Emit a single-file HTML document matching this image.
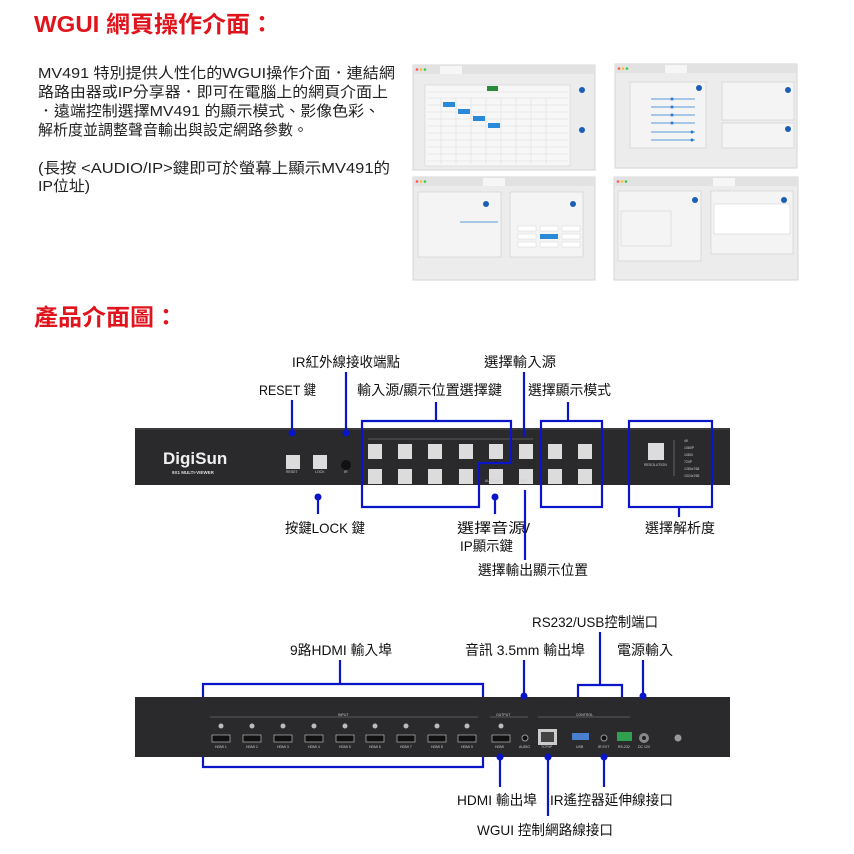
<!DOCTYPE html>
<html><head><meta charset="utf-8"><style>
html,body{margin:0;padding:0;background:#fff;width:854px;height:854px;overflow:hidden}
svg{display:block}
.t{font-family:"Liberation Sans","Noto Sans CJK TC",sans-serif}
.lb{font-family:"Liberation Sans","Noto Sans CJK TC",sans-serif;font-size:14px;fill:#111}
.bl{stroke:#0a14c8;stroke-width:2.2;fill:none}
.dot{fill:#0a14c8}
.sm{font-family:"Liberation Sans",sans-serif;font-size:3.5px;fill:#ccc}
</style></head><body>
<svg width="854" height="854" viewBox="0 0 854 854" xmlns="http://www.w3.org/2000/svg">
<text class="t" x="34" y="32" font-size="23" font-weight="bold" fill="#e0141c" textLength="240" lengthAdjust="spacingAndGlyphs">WGUI 網頁操作介面：</text>
<text class="t" x="34" y="325" font-size="23" font-weight="bold" fill="#e0141c" textLength="144" lengthAdjust="spacingAndGlyphs">產品介面圖：</text>
<g class="t" font-size="15" fill="#222">
<text x="38" y="78" textLength="357" lengthAdjust="spacingAndGlyphs">MV491 特別提供人性化的WGUI操作介面．連結網</text>
<text x="38" y="97" textLength="350" lengthAdjust="spacingAndGlyphs">路路由器或IP分享器．即可在電腦上的網頁介面上</text>
<text x="38" y="116" textLength="342" lengthAdjust="spacingAndGlyphs">．遠端控制選擇MV491 的顯示模式、影像色彩、</text>
<text x="38" y="135" textLength="270" lengthAdjust="spacingAndGlyphs">解析度並調整聲音輸出與設定網路參數。</text>
<text x="38" y="173" textLength="352" lengthAdjust="spacingAndGlyphs">(長按 &lt;AUDIO/IP&gt;鍵即可於螢幕上顯示MV491的</text>
<text x="38" y="191" textLength="52" lengthAdjust="spacingAndGlyphs">IP位址)</text>
</g>
<g>
<rect x="413" y="65" width="182" height="105" fill="#ececec" stroke="#d4d4d4"/>
<rect x="413" y="65" width="182" height="9" fill="#e2e2e2"/>
<rect x="440" y="66" width="22" height="8" fill="#f6f6f6"/>
<circle cx="417" cy="69.5" r="1.3" fill="#f55"/><circle cx="421" cy="69.5" r="1.3" fill="#fb3"/><circle cx="425" cy="69.5" r="1.3" fill="#3c4"/>
<rect x="425" y="85" width="145" height="81" fill="#f7f7f7" stroke="#ccc" stroke-width=".5"/>
<g stroke="#ddd" stroke-width=".6">
<line x1="427" y1="92" x2="568" y2="92"/><line x1="427" y1="98" x2="568" y2="98"/><line x1="427" y1="105" x2="568" y2="105"/><line x1="427" y1="112" x2="568" y2="112"/><line x1="427" y1="119" x2="568" y2="119"/><line x1="427" y1="126" x2="568" y2="126"/><line x1="427" y1="133" x2="568" y2="133"/><line x1="427" y1="140" x2="568" y2="140"/><line x1="427" y1="147" x2="568" y2="147"/><line x1="427" y1="154" x2="568" y2="154"/><line x1="427" y1="161" x2="568" y2="161"/>
<line x1="441" y1="98" x2="441" y2="164"/><line x1="456" y1="98" x2="456" y2="164"/><line x1="471" y1="98" x2="471" y2="164"/><line x1="486" y1="98" x2="486" y2="164"/><line x1="501" y1="98" x2="501" y2="164"/><line x1="516" y1="98" x2="516" y2="164"/><line x1="531" y1="98" x2="531" y2="164"/><line x1="546" y1="98" x2="546" y2="164"/>
</g>
<rect x="487" y="86" width="11" height="5" fill="#2a8a3a"/>
<rect x="443" y="102" width="12" height="5" fill="#2a8ad8"/><rect x="458" y="109" width="12" height="5" fill="#2a8ad8"/><rect x="473" y="116" width="12" height="5" fill="#2a8ad8"/><rect x="488" y="123" width="12" height="5" fill="#2a8ad8"/>
<circle cx="582" cy="90" r="3" fill="#1a5fb4"/><circle cx="582" cy="130" r="3" fill="#1a5fb4"/>

<rect x="615" y="64" width="182" height="104" fill="#ececec" stroke="#d4d4d4"/>
<rect x="615" y="64" width="182" height="9" fill="#e2e2e2"/>
<rect x="665" y="65" width="22" height="8" fill="#f6f6f6"/>
<circle cx="619" cy="68.5" r="1.3" fill="#f55"/><circle cx="623" cy="68.5" r="1.3" fill="#fb3"/><circle cx="627" cy="68.5" r="1.3" fill="#3c4"/>
<rect x="630" y="82" width="76" height="66" fill="#f4f4f4" stroke="#ccc" stroke-width=".6"/>
<rect x="722" y="82" width="72" height="38" fill="#f4f4f4" stroke="#ccc" stroke-width=".6"/>
<rect x="722" y="123" width="72" height="25" fill="#f4f4f4" stroke="#ccc" stroke-width=".6"/>
<g stroke="#5a9ad8" stroke-width="1"><line x1="651" y1="99" x2="695" y2="99"/><line x1="651" y1="107" x2="695" y2="107"/><line x1="651" y1="115" x2="695" y2="115"/><line x1="651" y1="123" x2="695" y2="123"/><line x1="651" y1="132" x2="695" y2="132"/><line x1="651" y1="140" x2="695" y2="140"/></g>
<g fill="#2a7ad0"><circle cx="672" cy="99" r="1.5"/><circle cx="672" cy="107" r="1.5"/><circle cx="672" cy="115" r="1.5"/><circle cx="672" cy="123" r="1.5"/><circle cx="692" cy="132" r="1.5"/><circle cx="692" cy="140" r="1.5"/></g>
<circle cx="699" cy="88" r="3" fill="#1a5fb4"/><circle cx="788" cy="90" r="3" fill="#1a5fb4"/><circle cx="788" cy="129" r="3" fill="#1a5fb4"/>

<rect x="413" y="177" width="182" height="103" fill="#ececec" stroke="#d4d4d4"/>
<rect x="413" y="177" width="182" height="9" fill="#e2e2e2"/>
<rect x="483" y="178" width="22" height="8" fill="#f6f6f6"/>
<circle cx="417" cy="181.5" r="1.3" fill="#f55"/><circle cx="421" cy="181.5" r="1.3" fill="#fb3"/><circle cx="425" cy="181.5" r="1.3" fill="#3c4"/>
<rect x="418" y="192" width="83" height="65" fill="#f4f4f4" stroke="#ccc" stroke-width=".6"/>
<rect x="510" y="192" width="73" height="65" fill="#f4f4f4" stroke="#ccc" stroke-width=".6"/>
<line x1="460" y1="222" x2="498" y2="222" stroke="#5a9ad8"/>
<rect x="518" y="226" width="18" height="5" fill="#fff" stroke="#ccc" stroke-width=".4"/><rect x="540" y="226" width="18" height="5" fill="#fff" stroke="#ccc" stroke-width=".4"/><rect x="562" y="226" width="18" height="5" fill="#fff" stroke="#ccc" stroke-width=".4"/>
<rect x="518" y="234" width="18" height="5" fill="#fff" stroke="#ccc" stroke-width=".4"/><rect x="540" y="234" width="18" height="5" fill="#2a8ad8"/><rect x="562" y="234" width="18" height="5" fill="#fff" stroke="#ccc" stroke-width=".4"/>
<rect x="518" y="242" width="18" height="5" fill="#fff" stroke="#ccc" stroke-width=".4"/><rect x="540" y="242" width="18" height="5" fill="#fff" stroke="#ccc" stroke-width=".4"/><rect x="562" y="242" width="18" height="5" fill="#fff" stroke="#ccc" stroke-width=".4"/>
<circle cx="486" cy="204" r="3" fill="#1a5fb4"/><circle cx="573" cy="204" r="3" fill="#1a5fb4"/>

<rect x="614" y="177" width="184" height="103" fill="#ececec" stroke="#d4d4d4"/>
<rect x="614" y="177" width="184" height="9" fill="#e2e2e2"/>
<rect x="713" y="178" width="22" height="8" fill="#f6f6f6"/>
<circle cx="618" cy="181.5" r="1.3" fill="#f55"/><circle cx="622" cy="181.5" r="1.3" fill="#fb3"/><circle cx="626" cy="181.5" r="1.3" fill="#3c4"/>
<rect x="618" y="191" width="83" height="70" fill="#f4f4f4" stroke="#ccc" stroke-width=".6"/>
<rect x="711" y="191" width="82" height="63" fill="#f4f4f4" stroke="#ccc" stroke-width=".6"/>
<rect x="714" y="204" width="76" height="30" fill="#fff" stroke="#ccc" stroke-width=".5"/>
<rect x="621" y="211" width="50" height="35" fill="none" stroke="#ccc" stroke-width=".5"/>
<circle cx="695" cy="200" r="3" fill="#1a5fb4"/><circle cx="784" cy="200" r="3" fill="#1a5fb4"/>
</g>

<!-- FRONT PANEL -->
<rect x="135" y="428" width="595" height="57" fill="#2a2a2c"/>
<rect x="135" y="428" width="595" height="2" fill="#3a3a3c"/>
<text x="163" y="464" font-family="Liberation Sans" font-size="17" font-weight="bold" fill="#f0f0f0">DigiSun</text>
<text x="172" y="474" font-family="Liberation Sans" font-size="4.5" fill="#ddd" font-weight="bold">9X1 MULTI-VIEWER</text>
<g fill="#dcdcdc">
<rect x="286" y="455" width="14" height="14"/><rect x="313" y="455" width="14" height="14"/>
<rect x="368" y="444" width="14" height="15"/><rect x="398" y="444" width="14" height="15"/><rect x="428" y="444" width="14" height="15"/><rect x="459" y="444" width="14" height="15"/><rect x="489" y="444" width="14" height="15"/><rect x="519" y="444" width="14" height="15"/>
<rect x="368" y="469" width="14" height="15"/><rect x="398" y="469" width="14" height="15"/><rect x="428" y="469" width="14" height="15"/><rect x="459" y="469" width="14" height="15"/><rect x="489" y="469" width="14" height="15"/><rect x="519" y="469" width="14" height="15"/>
<rect x="548" y="444" width="14" height="15"/><rect x="578" y="444" width="14" height="15"/>
<rect x="548" y="469" width="14" height="15"/><rect x="578" y="469" width="14" height="15"/>
<rect x="648" y="443" width="16" height="17"/>
</g>
<g class="sm"><text x="286" y="473">RESET</text><text x="315" y="473">LOCK</text><text x="344" y="473">IR</text><text x="485" y="482">AUDIO/IP</text><text x="520" y="482">OUT</text><text x="644" y="466">RESOLUTION</text>
<text x="684" y="442">4K</text><text x="684" y="449">1080P</text><text x="684" y="456">1080I</text><text x="684" y="463">720P</text><text x="684" y="470">1280x768</text><text x="684" y="477">1024x768</text></g>
<circle cx="346" cy="465" r="5" fill="#111"/>
<line x1="368" y1="439" x2="533" y2="439" stroke="#888" stroke-width=".5"/>
<g stroke="#999" stroke-width=".5"><line x1="674" y1="440" x2="674" y2="476"/></g>

<path class="bl" d="M362,421 H511 V463 H479 V507 H362 Z"/>
<rect class="bl" x="541" y="421" width="61" height="86"/>
<rect class="bl" x="629" y="421" width="83" height="86"/>
<line class="bl" x1="292" y1="400" x2="292" y2="433"/><circle class="dot" cx="292" cy="433" r="3.5"/>
<line class="bl" x1="346" y1="372" x2="346" y2="433"/><circle class="dot" cx="346" cy="433" r="3.5"/>
<line class="bl" x1="436" y1="402" x2="436" y2="421"/>
<line class="bl" x1="524" y1="372" x2="524" y2="437"/>
<line class="bl" x1="568" y1="402" x2="568" y2="421"/>
<line class="bl" x1="318" y1="497" x2="318" y2="514"/><circle class="dot" cx="318" cy="497" r="3.5"/>
<line class="bl" x1="495" y1="497" x2="495" y2="514"/><circle class="dot" cx="495" cy="497" r="3.5"/>
<line class="bl" x1="525" y1="490" x2="525" y2="560"/>
<line class="bl" x1="679" y1="507" x2="679" y2="517"/>

<text class="lb" x="292" y="367" textLength="108" lengthAdjust="spacingAndGlyphs">IR紅外線接收端點</text>
<text class="lb" x="484" y="367" textLength="72" lengthAdjust="spacingAndGlyphs">選擇輸入源</text>
<text class="lb" x="259" y="395" textLength="57" lengthAdjust="spacingAndGlyphs">RESET 鍵</text>
<text class="lb" x="357" y="395" textLength="145" lengthAdjust="spacingAndGlyphs">輸入源/顯示位置選擇鍵</text>
<text class="lb" x="528" y="395" textLength="83" lengthAdjust="spacingAndGlyphs">選擇顯示模式</text>
<text class="lb" x="285" y="533" textLength="80" lengthAdjust="spacingAndGlyphs">按鍵LOCK 鍵</text>
<text class="lb" x="457" y="533" textLength="73" lengthAdjust="spacingAndGlyphs">選擇音源/</text>
<text class="lb" x="460" y="551" textLength="53" lengthAdjust="spacingAndGlyphs">IP顯示鍵</text>
<text class="lb" x="645" y="533" textLength="70" lengthAdjust="spacingAndGlyphs">選擇解析度</text>
<text class="lb" x="478" y="575" textLength="110" lengthAdjust="spacingAndGlyphs">選擇輸出顯示位置</text>

<!-- REAR PANEL -->
<rect x="135" y="697" width="595" height="60" fill="#2a2a2c"/>
<g fill="#111" stroke="#bbb" stroke-width=".7">
<rect x="212" y="735" width="18" height="7"/><rect x="243" y="735" width="18" height="7"/><rect x="274" y="735" width="18" height="7"/><rect x="305" y="735" width="18" height="7"/><rect x="336" y="735" width="18" height="7"/><rect x="366" y="735" width="18" height="7"/><rect x="397" y="735" width="18" height="7"/><rect x="428" y="735" width="18" height="7"/><rect x="458" y="735" width="18" height="7"/><rect x="492" y="735" width="18" height="7"/>
</g>
<g fill="#bbb">
<circle cx="221" cy="726" r="2.5"/><circle cx="252" cy="726" r="2.5"/><circle cx="283" cy="726" r="2.5"/><circle cx="314" cy="726" r="2.5"/><circle cx="345" cy="726" r="2.5"/><circle cx="375" cy="726" r="2.5"/><circle cx="406" cy="726" r="2.5"/><circle cx="437" cy="726" r="2.5"/><circle cx="467" cy="726" r="2.5"/><circle cx="501" cy="726" r="2.5"/>
</g>
<g class="sm"><text x="215" y="748">HDMI 1</text><text x="246" y="748">HDMI 2</text><text x="277" y="748">HDMI 3</text><text x="308" y="748">HDMI 4</text><text x="339" y="748">HDMI 5</text><text x="369" y="748">HDMI 6</text><text x="400" y="748">HDMI 7</text><text x="431" y="748">HDMI 8</text><text x="461" y="748">HDMI 9</text><text x="495" y="748">HDMI</text><text x="519" y="748">AUDIO</text><text x="541" y="748">TCP/IP</text><text x="576" y="748">USB</text><text x="598" y="748">IR EXT</text><text x="618" y="748">RS-232</text><text x="638" y="748">DC 12V</text><text x="338" y="716">INPUT</text><text x="496" y="716">OUTPUT</text><text x="576" y="716">CONTROL</text></g>
<circle cx="525" cy="738" r="3" fill="#111" stroke="#999"/>
<rect x="538" y="729" width="19" height="16" fill="#ccc"/><rect x="541" y="732" width="13" height="10" fill="#444"/>
<rect x="572" y="733" width="17" height="7" fill="#4a7fd0"/>
<circle cx="604" cy="738" r="3" fill="#111" stroke="#999"/>
<rect x="617" y="732" width="15" height="9" fill="#2fa050"/>
<circle cx="644" cy="738" r="5" fill="#888"/><circle cx="644" cy="738" r="2" fill="#222"/>
<circle cx="678" cy="738" r="3.5" fill="#999"/>
<g stroke="#888" stroke-width=".5"><line x1="210" y1="717" x2="478" y2="717"/><line x1="490" y1="717" x2="528" y2="717"/><line x1="538" y1="717" x2="630" y2="717"/></g>

<path class="bl" d="M203,697 V684 H483 V697"/>
<line class="bl" x1="340" y1="660" x2="340" y2="684"/>
<path class="bl" d="M203,757 V767 H483 V757"/>
<line class="bl" x1="524" y1="660" x2="524" y2="696"/><circle class="dot" cx="524" cy="696" r="3.5"/>
<path class="bl" d="M578,697 V685 H622 V697"/>
<line class="bl" x1="600" y1="632" x2="600" y2="685"/>
<line class="bl" x1="643" y1="660" x2="643" y2="696"/><circle class="dot" cx="643" cy="696" r="3.5"/>
<line class="bl" x1="500" y1="757" x2="500" y2="787"/><circle class="dot" cx="500" cy="757" r="3.5"/>
<line class="bl" x1="548" y1="757" x2="548" y2="816"/><circle class="dot" cx="548" cy="757" r="3.5"/>
<line class="bl" x1="604" y1="757" x2="604" y2="787"/><circle class="dot" cx="604" cy="757" r="3.5"/>

<text class="lb" x="532" y="627" textLength="126" lengthAdjust="spacingAndGlyphs">RS232/USB控制端口</text>
<text class="lb" x="290" y="655" textLength="102" lengthAdjust="spacingAndGlyphs">9路HDMI 輸入埠</text>
<text class="lb" x="465" y="655" textLength="120" lengthAdjust="spacingAndGlyphs">音訊 3.5mm 輸出埠</text>
<text class="lb" x="617" y="655" textLength="56" lengthAdjust="spacingAndGlyphs">電源輸入</text>
<text class="lb" x="457" y="805" textLength="80" lengthAdjust="spacingAndGlyphs">HDMI 輸出埠</text>
<text class="lb" x="550" y="805" textLength="123" lengthAdjust="spacingAndGlyphs">IR遙控器延伸線接口</text>
<text class="lb" x="477" y="835" textLength="136" lengthAdjust="spacingAndGlyphs">WGUI 控制網路線接口</text>
</svg>
</body></html>
